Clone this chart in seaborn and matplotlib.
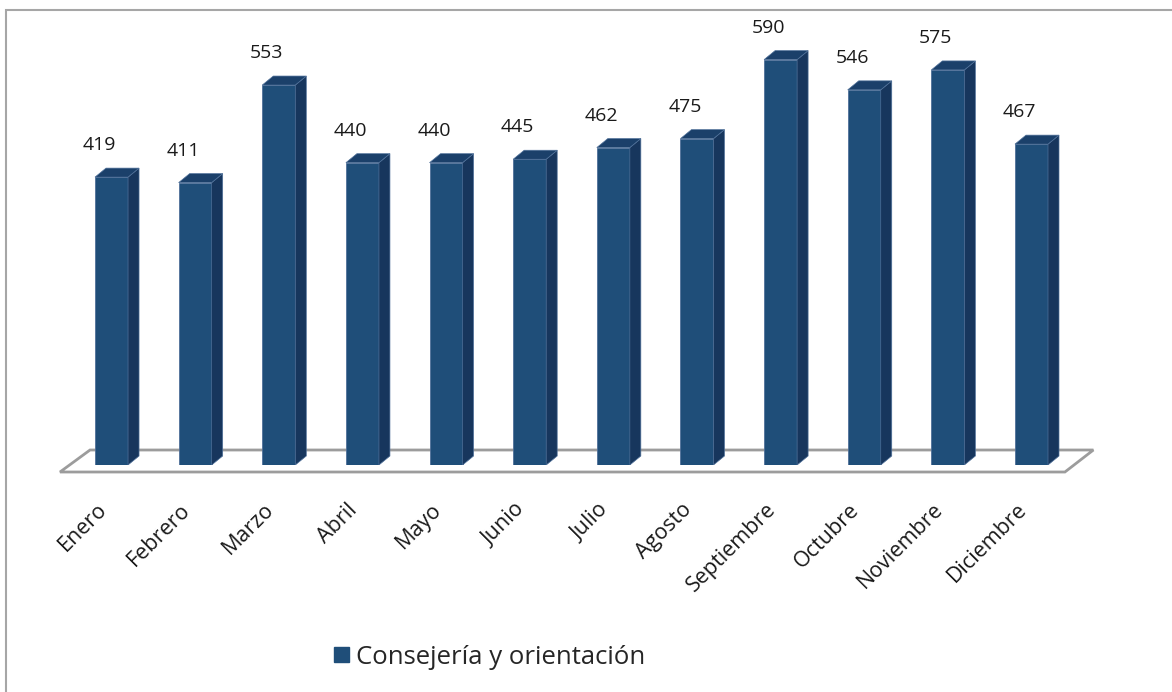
import matplotlib
matplotlib.use("Agg")
import matplotlib.pyplot as plt
import matplotlib.transforms as mtransforms
from matplotlib.patches import Polygon, Rectangle, Patch
import seaborn as sns

# Data
months = ["Enero", "Febrero", "Marzo", "Abril", "Mayo", "Junio", "Julio",
          "Agosto", "Septiembre", "Octubre", "Noviembre", "Diciembre"]
values = [419, 411, 553, 440, 440, 445, 462, 475, 590, 546, 575, 467]
series_name = "Consejería y orientación"

# Colours
front = "#1F4E79"
side = "#17365D"
top = "#1B406A"
edge = "#4F7099"

sns.set_style("white")
plt.rcParams["font.family"] = ["Open Sans", "DejaVu Sans"]

W, H = 1172, 692
fig = plt.figure(figsize=(W / 100, H / 100), dpi=100)
ax = fig.add_axes([69.7 / W, (H - 465) / H, (1073.3 - 69.7) / W, 446.6 / H])

sns.barplot(x=months, y=values, color=front, saturation=1, width=0.395,
            ax=ax, zorder=3, edgecolor=edge, linewidth=0.6)
ax.set_xlim(-0.5, 11.5)
ax.set_ylim(0, 650)
sns.despine(ax=ax, left=True, bottom=True)
ax.set_yticks([])
ax.set_xlabel("")
ax.set_ylabel("")

# pixel -> data unit conversions
p0 = ax.transData.transform((0, 0))
p1 = ax.transData.transform((1, 100))
px_x = p1[0] - p0[0]
px_y = (p1[1] - p0[1]) / 100
ddx, ddy = 11 / px_x, 9 / px_y

# pseudo 3D: side and top faces
for bar in ax.patches:
    x0, w, h = bar.get_x(), bar.get_width(), bar.get_height()
    ax.add_patch(Polygon([(x0 + w, 0), (x0 + w + ddx, ddy), (x0 + w + ddx, h + ddy), (x0 + w, h)],
                         closed=True, facecolor=side, edgecolor=edge, lw=0.5, zorder=3))
    ax.add_patch(Polygon([(x0, h), (x0 + w, h), (x0 + w + ddx, h + ddy), (x0 + ddx, h + ddy)],
                         closed=True, facecolor=top, edgecolor=edge, lw=0.5, zorder=3))

# floor
fy0, fy1 = -7 / px_y, 15 / px_y
floor = Polygon([(-0.616, fy0), (11.40, fy0), (11.74, fy1), (-0.257, fy1)], closed=True,
                facecolor="white", edgecolor="#9C9C9C", lw=2, zorder=1, clip_on=False)
ax.add_patch(floor)

# value labels
for i, v in enumerate(values):
    ax.annotate(str(v), (i, v), xytext=(-12, 32), textcoords="offset pixels",
                ha="center", va="center", fontsize=14, color="#1a1a1a")

# x tick labels
ax.tick_params(axis="x", length=0, pad=30, labelsize=15.5)
shift = mtransforms.ScaledTranslation(-8 / 100, 0, fig.dpi_scale_trans)
for lab in ax.get_xticklabels():
    lab.set_rotation(45)
    lab.set_ha("right")
    lab.set_va("center")
    lab.set_rotation_mode("anchor")
    lab.set_color("#1a1a1a")
    lab.set_transform(lab.get_transform() + shift)

# legend
fig.legend(handles=[Patch(facecolor=front, edgecolor=front)], labels=[series_name],
           loc="center", bbox_to_anchor=(490 / W, 1 - 657 / H), frameon=False,
           fontsize=18.5, handlelength=0.55, handleheight=0.55, handletextpad=0.3)

# outer frame (only top and left visible)
fig.patches.append(Rectangle((6 / W, -0.5), 2, 1 - 10 / H + 0.5, transform=fig.transFigure,
                             fill=False, edgecolor="#A6A6A6", lw=1.5))

fig.savefig("out.png", dpi=100)
